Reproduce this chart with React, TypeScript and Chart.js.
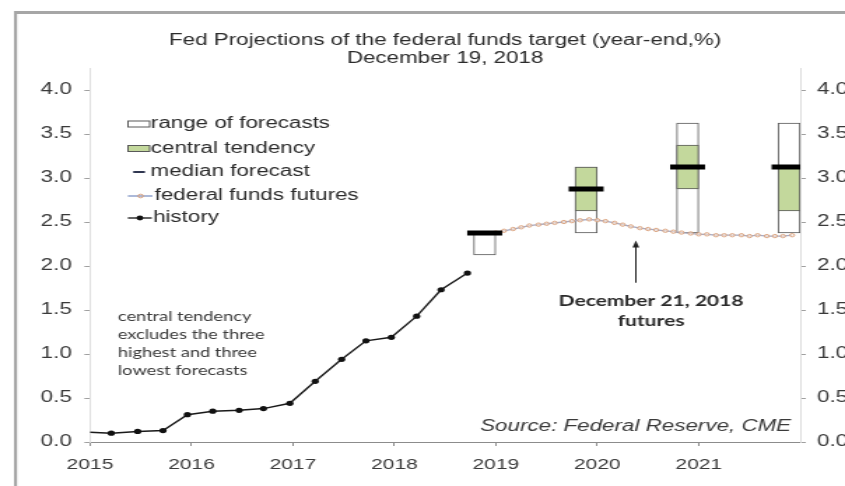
import React, { useEffect, useRef } from 'react';
import { Chart, registerables } from 'chart.js';

Chart.register(...registerables);

const FONT = '"Liberation Sans", Arial, sans-serif';
const NOTE_FONT = 'Lato, "Open Sans", sans-serif';
const CANVAS_W = 604;
const CANVAS_H = 486;
const STRETCH = 845 / CANVAS_W;

// ---------- data ----------
const titleLines = ['Fed Projections of the federal funds target (year-end,%)', 'December 19, 2018'];
const xTickYears = [2015, 2016, 2017, 2018, 2019, 2020, 2021];
const yTickValues = [0, 0.5, 1, 1.5, 2, 2.5, 3, 3.5, 4];

const historyX = [2015.0, 2015.21, 2015.47, 2015.72, 2015.96, 2016.21, 2016.47, 2016.71, 2016.97, 2017.22, 2017.48, 2017.72, 2017.97, 2018.22, 2018.46, 2018.72];
const historyY = [0.11, 0.1, 0.12, 0.13, 0.31, 0.35, 0.36, 0.38, 0.44, 0.69, 0.94, 1.15, 1.19, 1.43, 1.73, 1.92];

const futuresX = [2019.0, 2019.08, 2019.17, 2019.25, 2019.33, 2019.42, 2019.5, 2019.58, 2019.67, 2019.75, 2019.83, 2019.92,
  2020.0, 2020.08, 2020.17, 2020.25, 2020.33, 2020.42, 2020.5, 2020.58, 2020.67, 2020.75, 2020.83, 2020.92,
  2021.0, 2021.08, 2021.17, 2021.25, 2021.33, 2021.42, 2021.5, 2021.58, 2021.67, 2021.75, 2021.83, 2021.92];
const futuresY = [2.38, 2.4, 2.42, 2.44, 2.46, 2.47, 2.48, 2.49, 2.5, 2.51, 2.52, 2.53,
  2.52, 2.51, 2.49, 2.47, 2.45, 2.43, 2.42, 2.41, 2.4, 2.39, 2.38, 2.37,
  2.36, 2.36, 2.35, 2.35, 2.35, 2.35, 2.34, 2.35, 2.34, 2.34, 2.34, 2.35];

const projX = [2018.89, 2019.89, 2020.89, 2021.89];
const rangeLow = [2.125, 2.375, 2.375, 2.375];
const rangeHigh = [2.375, 3.125, 3.625, 3.625];
const ctLow: (number | null)[] = [null, 2.625, 2.875, 2.625];
const ctHigh: (number | null)[] = [null, 3.125, 3.375, 3.125];
const medianY = [2.375, 2.875, 3.125, 3.125];

const legendLabels = ['range of forecasts', 'central tendency', 'median forecast', 'federal funds futures', 'history'];
const noteLines = ['central tendency', 'excludes the three', 'highest and three', 'lowest forecasts'];
const arrowLabel = ['December 21, 2018', 'futures'];
const arrowAt = { x: 2020.38, yTop: 2.29, yBottom: 1.81, labelX: 2020.53, labelY1: 1.6, labelY2: 1.375 };
const sourceText = 'Source: Federal Reserve, CME';

// ---------- colours ----------
const GREEN = '#c3d89c';
const BOX_BORDER = '#595959';
const TEXT = '#2b2b2b';
const FUT_LINE = '#a5abc6';
const FUT_MARK = '#d9a07c';

const decorPlugin = {
  id: 'decor',
  beforeDraw(chart: any) {
    const ctx = chart.ctx;
    ctx.save();
    ctx.fillStyle = '#ffffff';
    ctx.fillRect(0, 0, chart.width, chart.height);
    ctx.fillStyle = '#a6a6a6';
    ctx.fillRect(10, 11, 2.2, chart.height);
    ctx.fillRect(10, 11, chart.width, 3);
    ctx.restore();
  },
  afterDraw(chart: any) {
    const ctx = chart.ctx;
    const ca = chart.chartArea;
    const xs = chart.scales.x;
    const ys = chart.scales.y;
    ctx.save();
    // title
    ctx.fillStyle = TEXT;
    ctx.font = `16px ${FONT}`;
    ctx.textAlign = 'center';
    ctx.textBaseline = 'middle';
    const cx = (ca.left + ca.right) / 2;
    ctx.fillText(titleLines[0], cx, 41);
    ctx.fillText(titleLines[1], cx, 59);

    // legend
    ctx.textAlign = 'left';
    const ly = [124, 149, 172, 196, 218];
    ctx.fillStyle = '#ffffff';
    ctx.strokeStyle = BOX_BORDER;
    ctx.lineWidth = 1;
    ctx.fillRect(91.5, 121, 15.5, 6);
    ctx.strokeRect(91.5, 121, 15.5, 6);
    ctx.fillStyle = GREEN;
    ctx.fillRect(91.5, 145.5, 15.5, 6);
    ctx.strokeRect(91.5, 145.5, 15.5, 6);
    ctx.strokeStyle = '#2f3650';
    ctx.lineWidth = 2;
    ctx.beginPath();
    ctx.moveTo(95.2, ly[2]);
    ctx.lineTo(103.6, ly[2]);
    ctx.stroke();
    ctx.strokeStyle = '#7f93c4';
    ctx.lineWidth = 1.3;
    ctx.beginPath();
    ctx.moveTo(91.4, ly[3]);
    ctx.lineTo(109, ly[3]);
    ctx.stroke();
    ctx.strokeStyle = FUT_MARK;
    ctx.lineWidth = 1;
    ctx.beginPath();
    ctx.arc(100.5, ly[3], 1.8, 0, Math.PI * 2);
    ctx.stroke();
    ctx.strokeStyle = '#111';
    ctx.lineWidth = 1.3;
    ctx.beginPath();
    ctx.moveTo(91.4, ly[4]);
    ctx.lineTo(108.5, ly[4]);
    ctx.stroke();
    ctx.fillStyle = '#111';
    ctx.beginPath();
    ctx.arc(100, ly[4], 2.4, 0, Math.PI * 2);
    ctx.fill();
    ctx.fillStyle = TEXT;
    ctx.font = `16px ${FONT}`;
    const lx = [107.8, 107.8, 107.6, 110.5, 109.4];
    legendLabels.forEach((t, i) => ctx.fillText(t, lx[i], ly[i]));

    // note text
    ctx.font = `13px ${NOTE_FONT}`;
    ctx.fillStyle = '#3a3a3a';
    const ny = [317, 335, 353, 371];
    noteLines.forEach((t, i) => ctx.fillText(t, 84.3, ny[i]));

    // arrow
    const ax = xs.getPixelForValue(arrowAt.x);
    const ay1 = ys.getPixelForValue(arrowAt.yTop);
    const ay2 = ys.getPixelForValue(arrowAt.yBottom);
    ctx.strokeStyle = '#222';
    ctx.lineWidth = 1;
    ctx.beginPath();
    ctx.moveTo(ax, ay1 + 4);
    ctx.lineTo(ax, ay2);
    ctx.stroke();
    ctx.fillStyle = '#222';
    ctx.beginPath();
    ctx.moveTo(ax, ay1);
    ctx.lineTo(ax - 2.4, ay1 + 7);
    ctx.lineTo(ax + 2.4, ay1 + 7);
    ctx.closePath();
    ctx.fill();

    // arrow label
    ctx.textAlign = 'center';
    ctx.font = `bold 15px ${NOTE_FONT}`;
    ctx.fillStyle = '#2b2b2b';
    const lxp = xs.getPixelForValue(arrowAt.labelX);
    ctx.fillText(arrowLabel[0], lxp, ys.getPixelForValue(arrowAt.labelY1));
    ctx.fillText(arrowLabel[1], lxp, ys.getPixelForValue(arrowAt.labelY2));

    // source
    ctx.textAlign = 'right';
    ctx.font = `italic 16px ${FONT}`;
    ctx.fillStyle = '#3a3a3a';
    ctx.fillText(sourceText, ca.right - 6.5, 427);
    ctx.restore();
  },
};

export default function App() {
  const ref = useRef<HTMLCanvasElement>(null);
  useEffect(() => {
    const canvas = ref.current;
    if (!canvas) return;
    Chart.defaults.font.family = FONT;

    const rangeData = projX.map((x, i) => ({ x, y: [rangeLow[i], rangeHigh[i]] }));
    const ctData = projX
      .map((x, i) => (ctLow[i] == null ? null : { x, y: [ctLow[i], ctHigh[i]] }))
      .filter((d) => d !== null);
    const medianData = projX.map((x, i) => ({ x, y: medianY[i] }));
    const historyData = historyX.map((x, i) => ({ x, y: historyY[i] }));
    const futuresData = futuresX.map((x, i) => ({ x, y: futuresY[i] }));

    const yTicks = (scale: any) => {
      scale.ticks = yTickValues.map((v) => ({ value: v }));
    };
    const yFit = (w: number) => (scale: any) => {
      scale.width = w;
      scale.paddingTop = 0;
      scale.paddingBottom = 0;
    };

    const chart = new Chart(canvas, {
      type: 'bar',
      data: {
        datasets: [
          {
            type: 'line',
            label: 'median forecast',
            data: medianData,
            showLine: false,
            pointStyle: 'line',
            pointRadius: 12.5,
            pointBorderWidth: 5,
            pointBorderColor: '#000',
            pointBackgroundColor: '#000',
            order: 0,
          } as any,
          {
            type: 'line',
            label: 'federal funds futures',
            data: futuresData,
            borderColor: FUT_LINE,
            borderWidth: 1.3,
            pointRadius: 1.7,
            pointBorderWidth: 0.9,
            pointBorderColor: FUT_MARK,
            pointBackgroundColor: 'rgba(255,235,220,0.6)',
            tension: 0,
            order: 1,
          } as any,
          {
            type: 'bar',
            label: 'central tendency',
            data: ctData,
            backgroundColor: GREEN,
            borderColor: BOX_BORDER,
            borderWidth: 1,
            borderSkipped: false,
            barThickness: 15.7,
            grouped: false,
            order: 2,
          } as any,
          {
            type: 'bar',
            label: 'range of forecasts',
            data: rangeData,
            backgroundColor: '#ffffff',
            borderColor: BOX_BORDER,
            borderWidth: 1,
            borderSkipped: false,
            barThickness: 15.7,
            grouped: false,
            order: 3,
          } as any,
          {
            type: 'line',
            label: 'history',
            data: historyData,
            borderColor: '#1a1a1a',
            borderWidth: 1.4,
            pointRadius: historyX.map((_, i) => (i === 0 ? 0 : 2.6)),
            pointBackgroundColor: '#111',
            pointBorderColor: '#111',
            pointBorderWidth: 0,
            tension: 0,
            order: 4,
          } as any,
        ],
      },
      options: {
        responsive: false,
        animation: false,
        devicePixelRatio: 1,
        layout: { padding: { top: 68, left: 0, right: 0, bottom: 0 } },
        plugins: {
          legend: { display: false },
          tooltip: { enabled: false },
          title: { display: false },
        },
        scales: {
          x: {
            type: 'linear',
            position: 'bottom',
            offset: false,
            min: 2015,
            max: 2022,
            afterBuildTicks: (scale: any) => {
              scale.ticks = xTickYears.map((v) => ({ value: v }));
            },
            afterFit: (scale: any) => {
              scale.height = 44;
              scale.paddingLeft = 0;
              scale.paddingRight = 0;
            },
            grid: { offset: false, drawOnChartArea: false, tickLength: 4, tickColor: '#8c8c8c' },
            border: { color: '#8c8c8c', width: 1 },
            ticks: {
              padding: 10,
              color: '#3a3a3a',
              maxRotation: 0,
              autoSkip: false,
              font: { family: FONT, size: 15 },
              callback: (v: any) => String(v),
            },
          },
          y: {
            type: 'linear',
            position: 'left',
            min: 0,
            max: 4.25,
            afterBuildTicks: yTicks,
            afterFit: yFit(64.3),
            grid: { drawOnChartArea: false, tickLength: 4, tickColor: '#a0a0a0' },
            border: { color: '#dedede', width: 1 },
            ticks: {
              padding: 9,
              color: '#3a3a3a',
              autoSkip: false,
              font: { family: FONT, size: 16 },
              callback: (v: any) => Number(v).toFixed(1),
            },
          },
          y2: {
            type: 'linear',
            position: 'right',
            min: 0,
            max: 4.25,
            afterBuildTicks: yTicks,
            afterFit: yFit(CANVAS_W - 572),
            grid: { drawOnChartArea: false, tickLength: 4, tickColor: '#a0a0a0' },
            border: { color: '#dedede', width: 1 },
            ticks: {
              padding: 8,
              color: '#3a3a3a',
              autoSkip: false,
              font: { family: FONT, size: 16 },
              callback: (v: any) => Number(v).toFixed(1),
            },
          },
        },
      } as any,
      plugins: [decorPlugin],
    });
    return () => chart.destroy();
  }, []);

  return (
    <div
      style={{
        position: 'fixed',
        left: 0,
        top: 0,
        width: 845,
        height: 486,
        overflow: 'hidden',
        background: '#fff',
      }}
    >
      <canvas
        ref={ref}
        width={CANVAS_W}
        height={CANVAS_H}
        style={{ display: 'block', transform: `scaleX(${STRETCH})`, transformOrigin: '0 0' }}
      />
    </div>
  );
}
